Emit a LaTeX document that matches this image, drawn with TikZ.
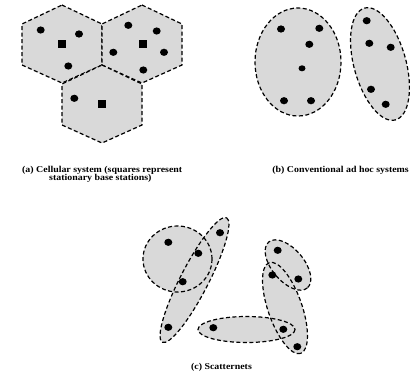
\documentclass[tikz,border=0pt]{standalone}
\usepackage{fontspec}
\setmainfont{Liberation Serif}
\begin{document}
\begin{tikzpicture}[x=1pt,y=-1pt,
  regionfill/.style={fill=black!15},
  regionline/.style={draw=black,line width=1.2pt,dash pattern=on 4pt off 2.5pt},
  dot/.style={fill=black},
  caption/.style={font=\fontsize{9}{9}\selectfont\bfseries,inner sep=0pt}]
\useasboundingbox (0,0) rectangle (410,384);
% (a) hexagons
\foreach \cx/\cy in {62/44,142/44,102/104}{
  \filldraw[regionfill,regionline] (\cx,\cy-39) -- (\cx+40,\cy-20) -- (\cx+40,\cy+21) -- (\cx,\cy+39) -- (\cx-40,\cy+21) -- (\cx-40,\cy-20) -- cycle;
}
\foreach \x/\y in {40.7/30,79/34,68.3/66,128.3/25.3,156.7/31,113.3/52.3,164/52.3,143.3/70,74.3/98.3}{
  \fill[dot] (\x,\y) ellipse (4 and 3.6);
}
\foreach \x/\y in {61.7/44.3,143.3/44,101.7/104.3}{
  \fill[dot] (\x-4,\y-4) rectangle (\x+4,\y+4);
}
\node[caption,anchor=west] (capa1) at (22,170) {\scalebox{1.1}[1]{(a) Cellular system (squares represent}};
\node[caption,anchor=west] (capa2) at (49,178.5) {\scalebox{1.1}[1]{stationary base stations)}};
% (b)
\filldraw[regionfill,regionline] (298,62) ellipse (43 and 54);
\filldraw[regionfill,regionline,rotate around={-74.5:(380,64)}] (380,64) ellipse (58 and 26);
\foreach \x/\y in {281/29,319.3/28.3,309.3/44.3,284/100.7,311/100.7,366.7/20.7,369.3/43.3,390.7/47.3,371/89.3,385.7/104.3}{
  \fill[dot] (\x,\y) ellipse (4 and 3.6);
}
\fill[dot] (302,68.3) ellipse (3.5 and 3);
\node[caption,anchor=east] (capb) at (409,170) {\scalebox{1.1}[1]{(b) Conventional ad hoc systems}};
% (c) fills first, then outlines
\foreach \s in {regionfill,regionline}{
  \path[\s] (177.5,259) ellipse (34.5 and 33);
  \path[\s,rotate around={62.7:(194.5,280)}] (194.5,280) ellipse (70 and 14);
  \path[\s] (246.5,329.5) ellipse (48.5 and 13);
  \path[\s,rotate around={-70.9:(285,308)}] (285,308) ellipse (48 and 17);
  \path[\s,rotate around={-50:(288,265)}] (288,265) ellipse (30 and 16);
}
\foreach \x/\y in {168.3/242.3,220/232.7,198.3/253.3,182.7/281.7,168.3/327.3,213.3/327.7,283.3/329.3,277.7/250.3,298.3/279,272.3/275,297.3/346.7}{
  \fill[dot] (\x,\y) ellipse (4 and 3.6);
}
\node[caption] (capc) at (221.5,367) {\scalebox{1.1}[1]{(c) Scatternets}};
\end{tikzpicture}
\end{document}
